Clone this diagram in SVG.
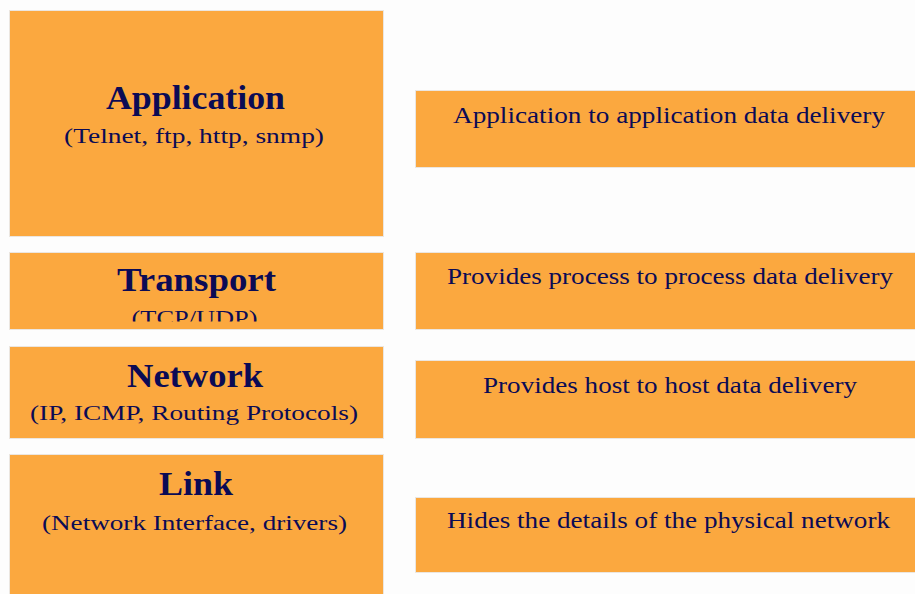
<svg xmlns="http://www.w3.org/2000/svg" width="915" height="594" viewBox="0 0 915 594">
<defs>
<style>
.box{fill:#fba83f;stroke:#ebe6e0;stroke-width:1}
.h{font-family:"Liberation Serif",serif;font-weight:bold;font-size:34px;fill:#0b0b55;text-anchor:middle}
.s{font-family:"Liberation Serif",serif;font-size:21px;fill:#0b0b55;text-anchor:middle}
.d{font-family:"Liberation Serif",serif;font-size:23px;fill:#0b0b55;text-anchor:middle}
</style>
<clipPath id="clipTcp"><rect x="9" y="252" width="375" height="69.5"/></clipPath>
</defs>
<rect x="0" y="0" width="915" height="594" fill="#fdfdfd"/>
<g id="connectors"/>
<g id="application">
<rect class="box" x="9.5" y="10.5" width="374" height="226"/>
<text class="h" x="195.5" y="109" textLength="179" lengthAdjust="spacingAndGlyphs">Application</text>
<text class="s" x="194" y="143" textLength="260" lengthAdjust="spacingAndGlyphs">(Telnet, ftp, http, snmp)</text>
</g>
<g id="transport">
<rect class="box" x="9.5" y="252.5" width="374" height="77"/>
<text class="h" x="196.5" y="291" textLength="159" lengthAdjust="spacingAndGlyphs">Transport</text>
<text class="s" x="194.5" y="325" textLength="126" lengthAdjust="spacingAndGlyphs" clip-path="url(#clipTcp)">(TCP/UDP)</text>
</g>
<g id="network">
<rect class="box" x="9.5" y="346.5" width="374" height="92"/>
<text class="h" x="195" y="387" textLength="136" lengthAdjust="spacingAndGlyphs">Network</text>
<text class="s" x="194" y="420" textLength="328" lengthAdjust="spacingAndGlyphs">(IP, ICMP, Routing Protocols)</text>
</g>
<g id="link">
<rect class="box" x="9.5" y="454.5" width="374" height="145"/>
<text class="h" x="196" y="495" textLength="74" lengthAdjust="spacingAndGlyphs">Link</text>
<text class="s" x="194.5" y="530" textLength="305" lengthAdjust="spacingAndGlyphs">(Network Interface, drivers)</text>
</g>
<g id="application-desc">
<rect class="box" x="415.5" y="90.5" width="505" height="77"/>
<text class="d" x="669" y="123" textLength="432" lengthAdjust="spacingAndGlyphs">Application to application data delivery</text>
</g>
<g id="transport-desc">
<rect class="box" x="415.5" y="252.5" width="505" height="77"/>
<text class="d" x="670" y="284" textLength="446" lengthAdjust="spacingAndGlyphs">Provides process to process data delivery</text>
</g>
<g id="network-desc">
<rect class="box" x="415.5" y="360.5" width="505" height="78"/>
<text class="d" x="670" y="393" textLength="374" lengthAdjust="spacingAndGlyphs">Provides host to host data delivery</text>
</g>
<g id="link-desc">
<rect class="box" x="415.5" y="497.5" width="505" height="75"/>
<text class="d" x="668.5" y="528" textLength="443" lengthAdjust="spacingAndGlyphs">Hides the details of the physical network</text>
</g>
</svg>
